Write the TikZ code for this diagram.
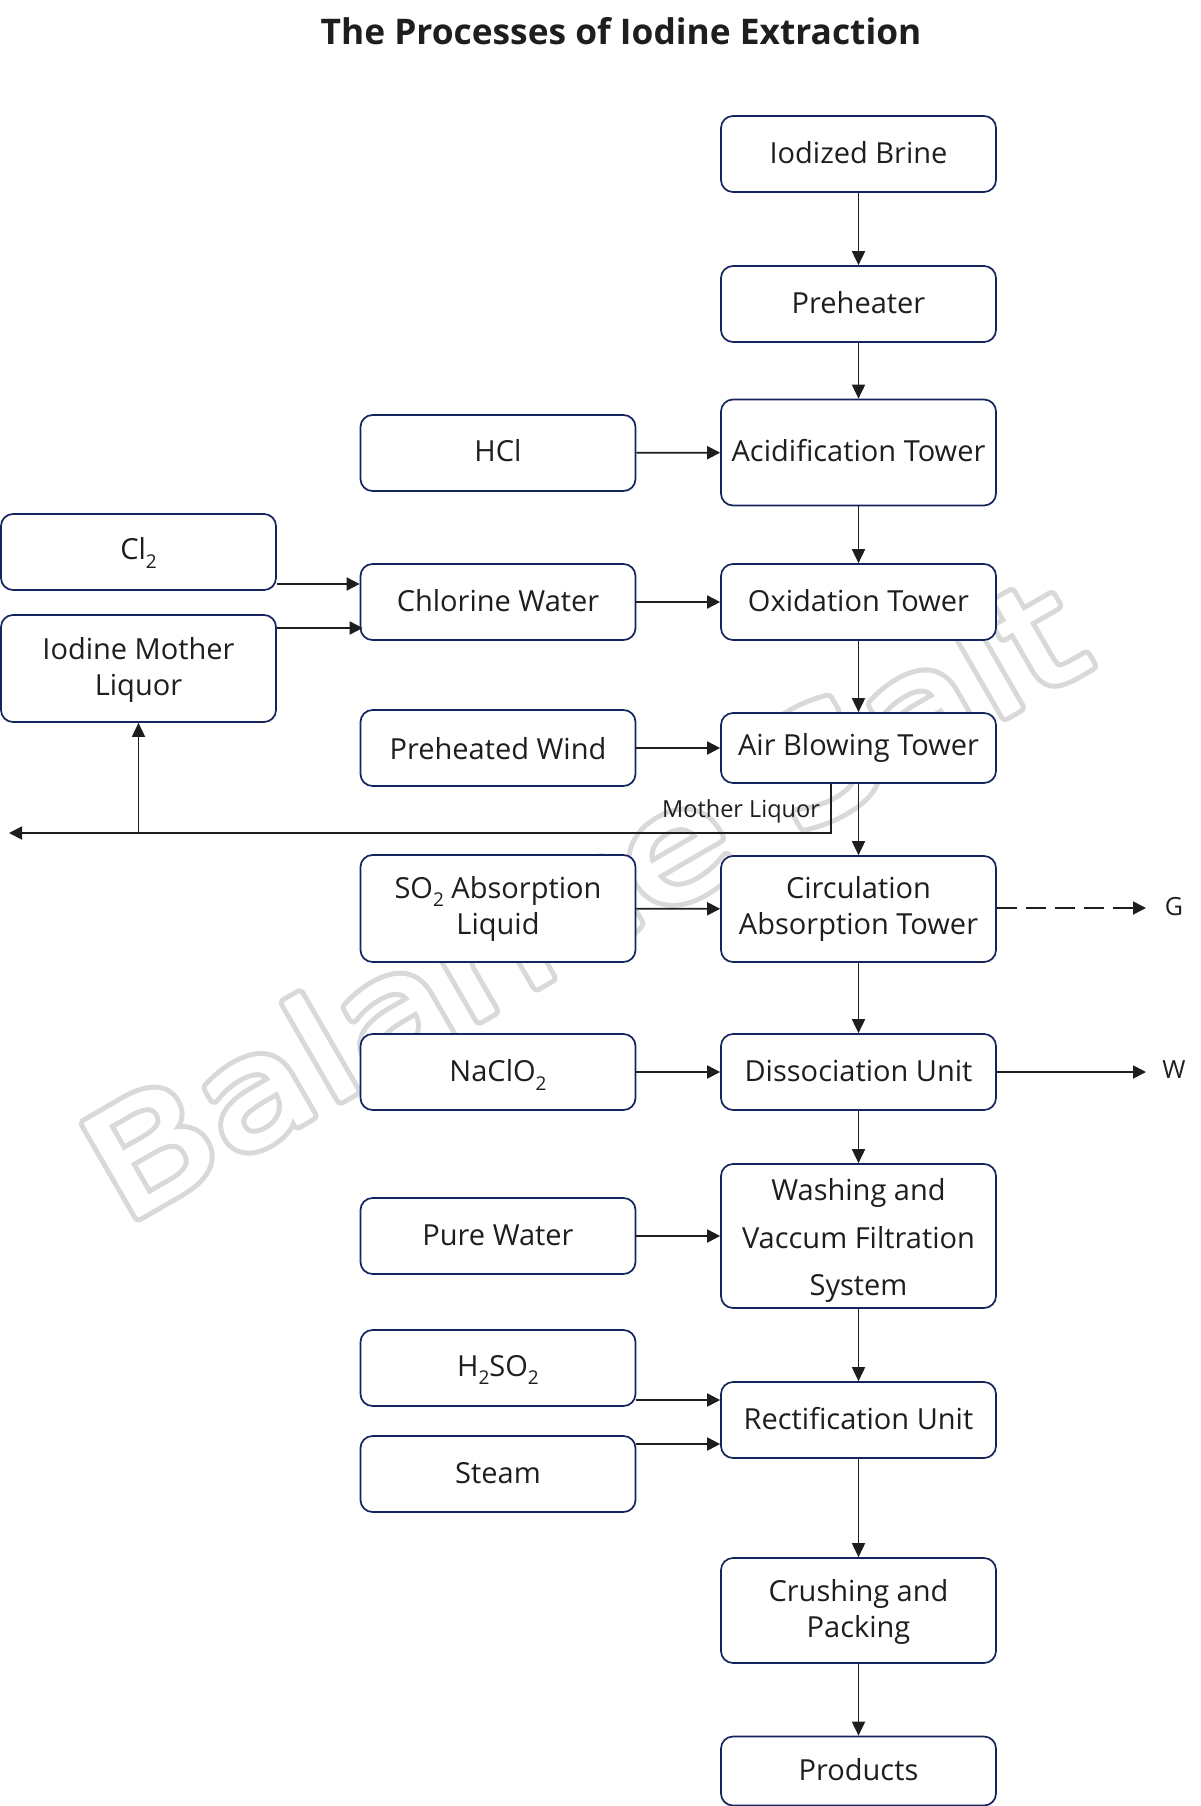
\documentclass[tikz,border=0pt]{standalone}
\usepackage{fontspec}
\setmainfont{Open Sans}
\newfontfamily\wmfont[FakeStretch=1.235]{DejaVu Sans}
\usetikzlibrary{arrows.meta}
\definecolor{boxline}{HTML}{14245C}
\definecolor{ink}{HTML}{1E1E1E}
\newcommand{\sbt}[1]{\raisebox{-0.28em}{\fontsize{19}{19}\selectfont #1}}
\newcommand{\up}[2]{\raisebox{#1pt}[\height][\depth]{#2}}
\newcommand{\wmtext}{Balance Salt}
\tikzset{
  x=1pt,y=-1pt,
  procbox/.style={draw=boxline,line width=1.7pt,rounded corners=12pt,fill=white,text=ink,
    minimum width=275pt,inner sep=0pt,align=center,font=\fontsize{29}{36}\selectfont},
  flow/.style={draw=ink,line width=1.8pt,-{Triangle[length=13pt,width=13pt]}},
  thinflow/.style={draw=ink,line width=1.8pt,-{Triangle[length=14pt,width=13pt]}},
  plainlabel/.style={text=ink,inner sep=0pt,font=\fontsize{25}{30}\selectfont},
  wmark/.style={rotate=30,inner sep=0pt,font=\wmfont\fontsize{146}{146}\selectfont},
}
\begin{document}
\begin{tikzpicture}
\useasboundingbox (0,0) rectangle (1200,1806);
\fill[white] (0,0) rectangle (1200,1806);
% watermark: a wide grey stroke with a white one over it leaves a rounded outline
\node[wmark] (wmA) at (582,897) {\special{pdf:code q 2 Tr 13 w 1 j 1 J 0.85 G 0.85 g}\wmtext\special{pdf:code Q}};
\node[wmark] (wmB) at (582,897) {\special{pdf:code q 2 Tr 3 w 1 j 1 J 1 G 1 g}\wmtext\special{pdf:code Q}};
% title
\node[text=ink,inner sep=0pt,font=\fontsize{35.3}{40}\selectfont\bfseries] (title) at (621,31) {The Processes of Iodine Extraction};
% right column
\node[procbox,minimum height=76pt] (brine) at (858.5,154) {\up{1}{Iodized Brine}};
\node[procbox,minimum height=76pt] (pre) at (858.5,304) {\up{1}{Preheater}};
\node[procbox,minimum height=106pt] (acid) at (858.5,452.5) {\up{2}{Acidification Tower}};
\node[procbox,minimum height=76pt] (ox) at (858.5,602) {\up{1}{Oxidation Tower}};
\node[procbox,minimum height=70pt] (air) at (858.5,748) {Air Blowing Tower};
\node[procbox,minimum height=106pt] (circ) at (858.5,909) {Circulation\\Absorption Tower};
\node[procbox,minimum height=76pt] (diss) at (858.5,1072) {\up{1}{Dissociation Unit}};
\node[procbox,minimum height=144pt,font=\fontsize{29}{47.5}\selectfont] (wash) at (858.5,1236) {\up{-4.5}{Washing and}\\\up{-4.5}{Vaccum Filtration}\\\up{-4.5}{System}};
\node[procbox,minimum height=76pt] (rect) at (858.5,1420) {\up{1}{Rectification Unit}};
\node[procbox,minimum height=105pt] (crush) at (858.5,1610.5) {\up{-1}{Crushing and}\\\up{-1}{Packing}};
\node[procbox,minimum height=69pt] (prod) at (858.5,1771) {\up{1}{Products}};
% middle column
\node[procbox,minimum height=76pt] (hcl) at (498,453) {\up{2}{HCl}};
\node[procbox,minimum height=76pt] (chl) at (498,602) {\up{1}{Chlorine Water}};
\node[procbox,minimum height=76pt] (wind) at (498,748) {\up{-1}{Preheated Wind}};
\node[procbox,minimum height=107pt] (so2) at (498,908.5) {SO\sbt{2} Absorption\\Liquid};
\node[procbox,minimum height=76pt] (naclo) at (498,1072) {\up{-3}{NaClO\sbt{2}}};
\node[procbox,minimum height=76pt] (pure) at (498,1236) {\up{1}{Pure Water}};
\node[procbox,minimum height=76pt] (hso) at (498,1368) {\up{-2.3}{H\sbt{2}SO\sbt{2}}};
\node[procbox,minimum height=76pt] (steam) at (498,1474) {\up{1}{Steam}};
% left column
\node[procbox,minimum height=76pt] (cl) at (138.5,552) {\up{-1}{Cl\sbt{2}}};
\node[procbox,minimum height=107pt] (iml) at (138.5,668.5) {\up{-1}{Iodine Mother}\\\up{-1}{Liquor}};
% labels
\node[plainlabel] (g) at (1174,907) {G};
\node[plainlabel] (w) at (1174,1070) {W};
\node[text=ink,inner sep=0pt,font=\fontsize{23.5}{28}\selectfont] (ml) at (741,811) {Mother Liquor};
% helper coordinates
\coordinate (yclA) at (0,584);
\coordinate (yimA) at (0,628);
\coordinate (yhA) at (0,1400);
\coordinate (ystA) at (0,1444);
\coordinate (xmA) at (831,0);
\coordinate (ymA) at (0,833);
\coordinate (lft) at (9,833);
\coordinate (gEnd) at (1146,908);
\coordinate (wEnd) at (1146,1072);
% vertical flow
\draw[thinflow] (brine) -- (pre);
\draw[thinflow] (pre) -- (acid);
\draw[thinflow] (acid) -- (ox);
\draw[thinflow] (ox) -- (air);
\draw[thinflow] (air) -- (circ);
\draw[thinflow] (circ) -- (diss);
\draw[thinflow] (diss) -- (wash);
\draw[thinflow] (wash) -- (rect);
\draw[thinflow] (rect) -- (crush);
\draw[thinflow] (crush) -- (prod);
% horizontal feeds
\draw[flow] (hcl) -- (acid);
\draw[flow] (chl) -- (ox);
\draw[flow] (wind) -- (air);
\draw[flow] (so2) -- (circ);
\draw[flow] (naclo) -- (diss);
\draw[flow] (pure) -- (wash);
\draw[flow] (cl.east |- yclA) -- (chl.west |- yclA);
\draw[flow] (iml.east |- yimA) -- ([xshift=3pt]chl.west |- yimA);
\draw[flow] (hso.east |- yhA) -- (rect.west |- yhA);
\draw[flow] (steam.east |- ystA) -- (rect.west |- ystA);
% mother liquor
\draw[flow] (xmA |- air.south) -- (xmA |- ymA) -- (lft);
\draw[thinflow] (iml.south |- ymA) -- (iml.south);
% outputs
\draw[flow,dash pattern=on 20pt off 9pt] (circ.east |- gEnd) -- (gEnd);
\draw[flow] (diss) -- (wEnd);
\end{tikzpicture}
\end{document}
